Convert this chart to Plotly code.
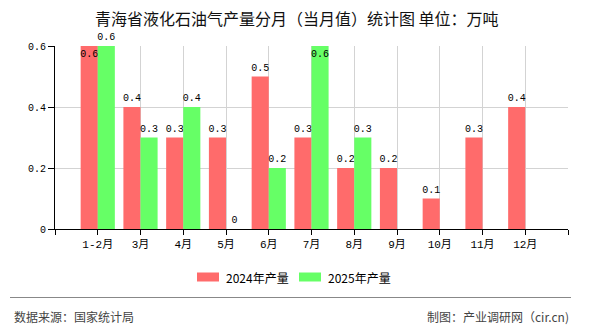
import plotly.graph_objects as go

categories = ['1-2月', '3月', '4月', '5月', '6月', '7月', '8月', '9月', '10月', '11月', '12月']
v2024 = [0.6, 0.4, 0.3, 0.3, 0.5, 0.3, 0.2, 0.2, 0.1, 0.3, 0.4]
v2025 = [0.6, 0.3, 0.4, 0, 0.2, 0.6, 0.3, None, None, None, None]
series_names = ['2024年产量', '2025年产量']
colors = ['#FF6B6B', '#66FF66']
y_ticks = [0, 0.2, 0.4, 0.6]

W, H = 590, 330
L, R, T, B = 55, 22, 46, 101
PW, PH = W - L - R, H - T - B

def px(x):
    return (x - L) / PW

def py(y):
    return (H - B - y) / PH

xpos = list(range(1, len(categories) + 1))
ymax = max(y_ticks)

def labels(vals):
    return ['' if v is None else f'{v:g}' for v in vals]

pos2024 = ['inside' if v == ymax else 'outside' for v in v2024]
pos2025 = ['outside' if (v is not None and v == ymax and i == 0) else ('inside' if v == ymax else 'outside')
           for i, v in enumerate(v2025)]

mono = 'Liberation Mono, Noto Sans CJK SC, monospace'
cjk = 'Noto Sans CJK SC, sans-serif'

fig = go.Figure()
for name, vals, col, pos in [(series_names[0], v2024, colors[0], pos2024),
                             (series_names[1], v2025, colors[1], pos2025)]:
    fig.add_trace(go.Bar(
        x=xpos, y=vals, name=name, marker=dict(color=col, line=dict(width=0)),
        text=labels(vals), textposition=pos, insidetextanchor='end',
        textangle=0, constraintext='none', cliponaxis=False,
        textfont=dict(family=mono, size=10, color='#000000'),
        insidetextfont=dict(family=mono, size=10, color='#000000'),
        outsidetextfont=dict(family=mono, size=10, color='#000000'),
        showlegend=False,
    ))

fig.update_layout(
    width=W, height=H,
    margin=dict(l=L, r=R, t=T, b=B, pad=0),
    paper_bgcolor='white', plot_bgcolor='white',
    barmode='group', bargap=0.2, bargroupgap=0,
    xaxis=dict(range=[0, len(categories) + 1], tickmode='array',
               tickvals=list(range(0, len(categories) + 2)),
               ticktext=[''] + categories + [''],
               showgrid=True, gridcolor='#d3d3d3', gridwidth=1,
               showline=True, linecolor='#000000', linewidth=1,
               ticks='outside', ticklen=5, tickcolor='#000000',
               zeroline=False, fixedrange=True,
               tickfont=dict(family=mono, size=11, color='#000000')),
    yaxis=dict(range=[0, ymax], tickmode='array', tickvals=y_ticks,
               ticktext=[f'{v:g}' for v in y_ticks],
               showgrid=True, gridcolor='#d3d3d3', gridwidth=1,
               showline=True, linecolor='#000000', linewidth=1,
               ticks='outside', ticklen=6, tickcolor='#000000',
               zeroline=False, fixedrange=True,
               tickfont=dict(family=mono, size=10, color='#000000')),
    font=dict(family=cjk),
)

shapes = []
annotations = []

# title
annotations.append(dict(text='青海省液化石油气产量分月（当月值）统计图 单位：万吨',
                        xref='paper', yref='paper', x=px(297), y=py(18),
                        xanchor='center', yanchor='middle', showarrow=False,
                        font=dict(family=cjk, size=16, color='#111111')))

# legend
leg = [(197, 224, series_names[0], colors[0]), (299, 326, series_names[1], colors[1])]
for sx, tx, name, col in leg:
    shapes.append(dict(type='rect', xref='paper', yref='paper',
                       x0=px(sx), x1=px(sx + 22), y0=py(281.5), y1=py(272.5),
                       fillcolor=col, line=dict(width=0)))
    annotations.append(dict(text=name, xref='paper', yref='paper', x=px(tx), y=py(277.5),
                            xanchor='left', yanchor='middle', showarrow=False,
                            font=dict(family=cjk, size=12, color='#000000')))

# footer
shapes.append(dict(type='line', xref='paper', yref='paper',
                   x0=px(10), x1=px(571), y0=py(297.5), y1=py(297.5),
                   line=dict(color='#888888', width=1.2)))
annotations.append(dict(text='数据来源：国家统计局', xref='paper', yref='paper',
                        x=px(12), y=py(316), xanchor='left', yanchor='middle',
                        showarrow=False, font=dict(family=cjk, size=12, color='#444444')))
annotations.append(dict(text='制图：产业调研网（cir.cn)', xref='paper', yref='paper',
                        x=px(571), y=py(316), xanchor='right', yanchor='middle',
                        showarrow=False, font=dict(family=cjk, size=12, color='#444444')))

fig.update_layout(shapes=shapes, annotations=annotations)
fig.write_html('out.html')
